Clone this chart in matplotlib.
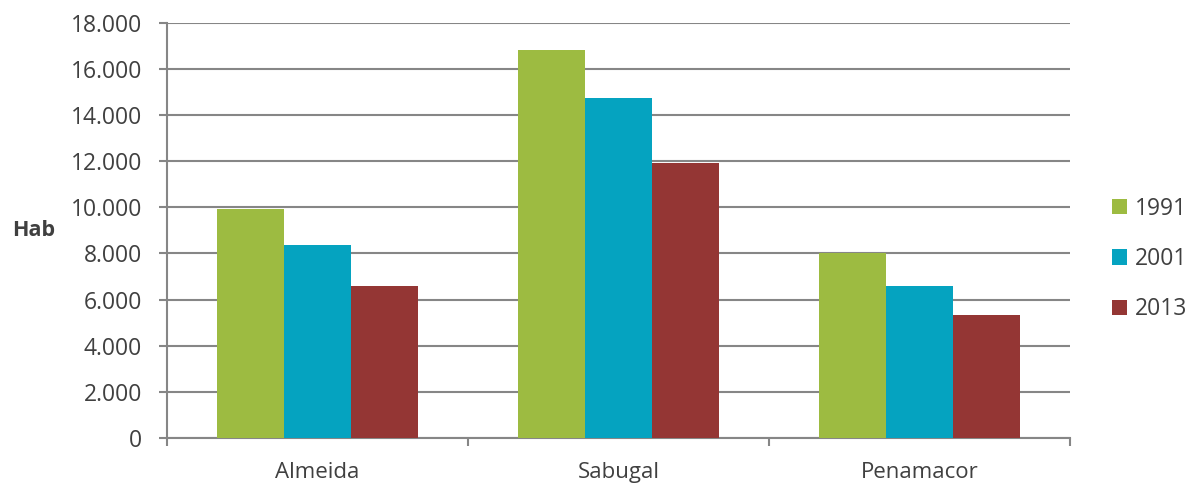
import matplotlib
matplotlib.use("Agg")
import matplotlib.pyplot as plt
from matplotlib.patches import Patch
from matplotlib.ticker import FuncFormatter
import numpy as np

concelhos = ["Almeida", "Sabugal", "Penamacor"]
anos = ["1991", "2001", "2013"]
hab_1991 = [9920, 16800, 8000]
hab_2001 = [8360, 14730, 6580]
hab_2013 = [6600, 11900, 5310]
cores = ["#9dbb41", "#05a3c0", "#943634"]

plt.rcParams["font.family"] = ["Open Sans", "DejaVu Sans"]
texto = "#404040"
grelha = "#868686"

fig = plt.figure(figsize=(11.94, 4.86), dpi=100)
ax = fig.add_axes([167 / 1194, 1 - 438 / 486, (1070 - 167) / 1194, (438 - 22.7) / 486])

x = np.arange(len(concelhos))
largura = 0.222
for i, (serie, cor) in enumerate(zip([hab_1991, hab_2001, hab_2013], cores)):
    ax.bar(x + (i - 1) * largura, serie, width=largura, color=cor, zorder=3)

ax.set_xlim(-0.5, 2.5)
ax.set_ylim(0, 18000)
ax.set_yticks(np.arange(0, 18001, 2000))
ax.yaxis.set_major_formatter(FuncFormatter(lambda v, p: f"{int(v):,}".replace(",", ".")))
ax.yaxis.grid(True, color=grelha, linewidth=1.5, zorder=0)

# ticks nas fronteiras entre concelhos, rótulos ao centro
ax.set_xticks([-0.5, 0.5, 1.5, 2.5])
ax.set_xticklabels([])
ax.set_xticks(x, minor=True)
ax.set_xticklabels(concelhos, minor=True)
ax.tick_params(axis="x", which="minor", length=0, pad=17, labelsize=16, labelcolor=texto)
ax.tick_params(axis="x", which="major", length=6, width=1.5, color=grelha, direction="out")
ax.tick_params(axis="y", length=6, width=1.5, color=grelha, direction="out",
               labelsize=16.5, labelcolor=texto, pad=12)

for lado in ["top", "right"]:
    ax.spines[lado].set_visible(False)
for lado in ["left", "bottom"]:
    ax.spines[lado].set_color(grelha)
    ax.spines[lado].set_linewidth(1.5)

fig.text(12 / 1194, 1 - 230 / 486, "Hab", fontsize=15.5, fontweight="bold", color=texto, va="center")

alcas = [Patch(facecolor=c, edgecolor="none") for c in cores]
fig.legend(alcas, anos, loc="center left", bbox_to_anchor=(1091 / 1194, 1 - 259 / 486),
           frameon=False, fontsize=16.5, labelcolor=texto, handlelength=0.65, handleheight=0.65,
           handletextpad=0.35, labelspacing=1.15)

fig.savefig("out.png", dpi=100)
